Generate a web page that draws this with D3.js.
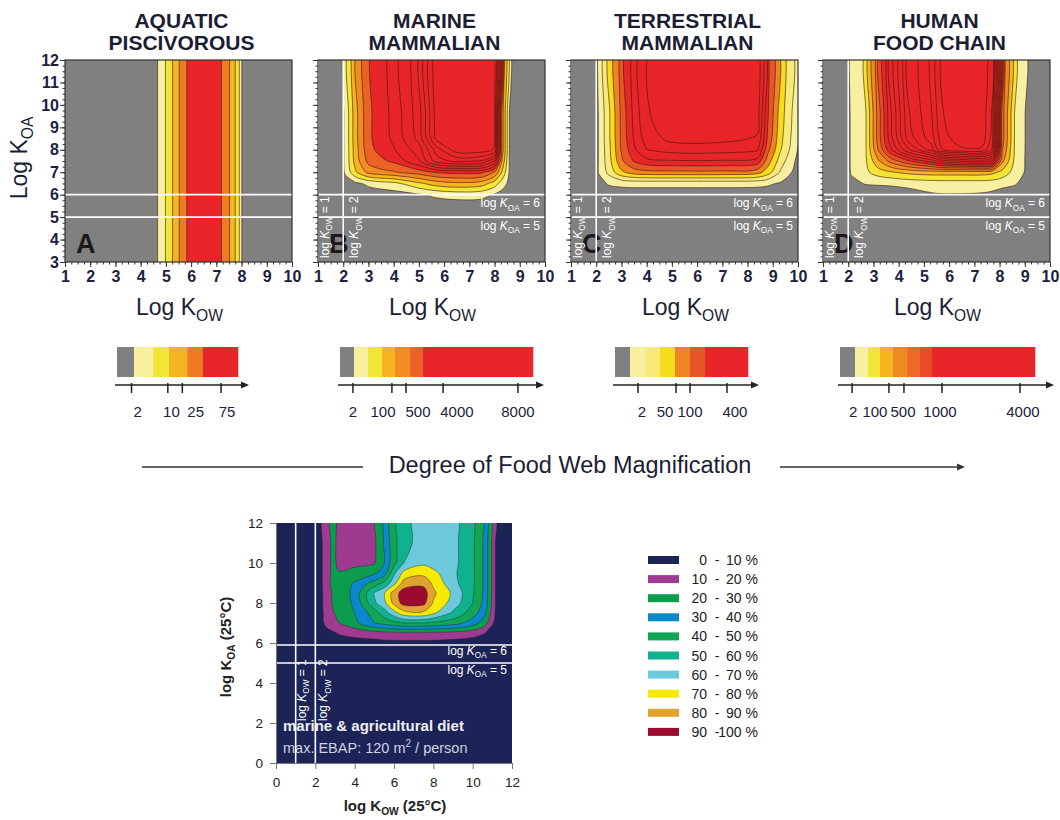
<!DOCTYPE html>
<html>
<head>
<meta charset="utf-8">
<script src="https://cdn.jsdelivr.net/npm/d3@7"></script>
<style>
  body { margin: 0; background: #fff; }
  svg text { font-family: "Liberation Sans", Arial, Helvetica, sans-serif; }
</style>
</head>
<body>
<svg id="fig" width="1060" height="820"></svg>
<script>
// ---------- data ----------
const panelTitles = [["AQUATIC", "PISCIVOROUS"], ["MARINE", "MAMMALIAN"], ["TERRESTRIAL", "MAMMALIAN"], ["HUMAN", "FOOD CHAIN"]];
const panelLetters = ["A", "B", "C", "D"];
const kowTicks = d3.range(1, 11);
const koaTicks = d3.range(3, 13);

// contour level grids (0 = no magnification); rows go from high log Koa down to low
const aKow = [0.5, 4.5, 4.84, 5.13, 5.4, 5.66, 6.0, 7.0, 7.4, 7.65, 7.85, 7.97, 8.05, 10.5];
const aKoa = [12.5, 2.5];
const aGrid = [
  [0, 0, 1, 2, 3, 4, 5, 5, 4, 3, 2, 1, 0, 0],
  [0, 0, 1, 2, 3, 4, 5, 5, 4, 3, 2, 1, 0, 0]
];

const bKow = [0.5, 1.9, 2.1, 2.5, 3, 3.5, 4, 5, 5.7, 6.5, 7.5, 8, 8.3, 8.6, 9, 10.5];
const bKoa = [12.5, 9.5, 8.5, 8, 7.5, 7, 6.5, 6, 5.5, 2.5];
const bGrid = [
  [0, 0, 0.82, 3.2, 5.3, 6.0, 6.8, 9.0, 13, 13.2, 13.2, 12.6, 4, 0.3, 0, 0],
  [0, 0, 0.82, 3.2, 5.3, 6.0, 6.8, 9.0, 13, 13.2, 13.2, 12.6, 4, 0.3, 0, 0],
  [0, 0, 0.82, 3.2, 5.3, 6.0, 6.7, 8.8, 12.8, 13.2, 13.2, 12.6, 4, 0.3, 0, 0],
  [0, 0, 0.8, 3.1, 5.2, 5.8, 6.4, 8.0, 11, 13.05, 13.05, 12.4, 4, 0.3, 0, 0],
  [0, 0, 0.8, 3.0, 4.8, 5.3, 5.7, 7.4, 10, 10.8, 10.4, 8.4, 3.4, 0.3, 0, 0],
  [0, 0, 0.7, 2.4, 3.8, 4.2, 4.4, 5.0, 5.6, 5.8, 5.7, 4.4, 2.4, 0.3, 0, 0],
  [0, 0, 0, 0.3, 0.7, 1.0, 1.2, 2.3, 3.0, 3.3, 3.0, 2.0, 1.0, 0.2, 0, 0],
  [0, 0, 0, 0, 0, 0, 0.1, 0.4, 0.7, 0.9, 0.8, 0.4, 0.1, 0, 0, 0],
  [0, 0, 0, 0, 0, 0, 0, 0, 0, 0, 0, 0, 0, 0, 0, 0],
  [0, 0, 0, 0, 0, 0, 0, 0, 0, 0, 0, 0, 0, 0, 0, 0]
];

const cKow = [0.5, 1.9, 2.1, 2.5, 3, 3.5, 4, 5, 7, 8.4, 8.8, 9.3, 10, 10.5];
const cKoa = [12.5, 9.5, 8.5, 8, 7.5, 7, 6.5, 6, 2.5];
const cGrid = [
  [0, 0, 0.55, 2.3, 4.75, 6.8, 8.4, 9, 9, 8.9, 5.6, 3.0, 0.7, 0.7],
  [0, 0, 0.55, 2.3, 4.75, 6.8, 8.4, 9, 9, 8.9, 5.6, 3.0, 0.7, 0.7],
  [0, 0, 0.55, 2.3, 4.7, 6.6, 8.0, 8.8, 8.8, 8.4, 5.3, 2.8, 0.6, 0.6],
  [0, 0, 0.55, 2.2, 4.6, 6.3, 7.5, 7.9, 7.9, 7.6, 4.8, 2.6, 0.45, 0.45],
  [0, 0, 0.55, 2.1, 4.3, 5.6, 6.2, 6.4, 6.4, 6.1, 4.0, 2.0, 0.2, 0.2],
  [0, 0, 0.55, 1.8, 3.3, 4.0, 4.2, 4.25, 4.25, 3.9, 3.0, 1.4, 0, 0],
  [0, 0, 0.2, 0.6, 0.75, 0.8, 0.8, 0.8, 0.8, 0.75, 0.65, 0.4, 0, 0],
  [0, 0, 0, 0, 0, 0, 0, 0, 0, 0, 0, 0, 0, 0],
  [0, 0, 0, 0, 0, 0, 0, 0, 0, 0, 0, 0, 0, 0]
];

const dKow = [0.5, 1.95, 2.1, 2.7, 3.2, 3.7, 4.4, 5.3, 5.7, 6.5, 7.3, 7.7, 8.1, 8.6, 9.1, 10.5];
const dKoa = [12.5, 9.5, 8.5, 8, 7.5, 7, 6.5, 6, 5.5, 2.5];
const dGrid = [
  [0, 0, 0.6, 1.45, 5.0, 8.4, 12.4, 14.4, 16.4, 17.2, 17.2, 15.4, 5.0, 1.45, 0.3, 0],
  [0, 0, 0.6, 1.45, 5.0, 8.4, 12.4, 14.4, 16.4, 17.2, 17.2, 15.4, 5.0, 1.45, 0.3, 0],
  [0, 0, 0.6, 1.45, 5.0, 8.2, 12.0, 14.0, 16.0, 17.1, 17.1, 15.2, 5.0, 1.45, 0.3, 0],
  [0, 0, 0.6, 1.45, 4.6, 7.4, 10.4, 13.0, 15.4, 16.3, 16.3, 14.4, 4.6, 1.4, 0.3, 0],
  [0, 0, 0.6, 1.4, 3.4, 4.9, 6.4, 8.0, 9.0, 9.6, 10.0, 9.4, 3.8, 1.3, 0.3, 0],
  [0, 0, 0.55, 1.3, 2.0, 2.4, 2.8, 3.0, 3.0, 3.0, 3.0, 2.8, 2.2, 1.1, 0.3, 0],
  [0, 0, 0.3, 0.55, 0.6, 0.65, 0.8, 0.95, 1.0, 1.0, 1.0, 0.95, 0.8, 0.6, 0.1, 0],
  [0, 0, 0, 0, 0, 0, 0.1, 0.4, 0.45, 0.45, 0.4, 0.3, 0.1, 0, 0, 0],
  [0, 0, 0, 0, 0, 0, 0, 0, 0, 0, 0, 0, 0, 0, 0, 0],
  [0, 0, 0, 0, 0, 0, 0, 0, 0, 0, 0, 0, 0, 0, 0, 0]
];

const GRAY = "#808080", RED = "#e8262a";
const aColors = [GRAY, "#f6f0a0", "#f3e535", "#f7b422", "#ef7b23", RED];
const bColors = [GRAY, "#f6f0a0", "#f3e535", "#f7b422", "#f08c22", "#eb6226"].concat(d3.range(8).map(() => RED));
const cColors = [GRAY, "#f6f0a0", "#f7ea78", "#f5dc1c", "#ef8522", "#ea5527"].concat(d3.range(4).map(() => RED));
const dColors = [GRAY, "#f6f0a0", "#f3e535", "#f7b422", "#ef8a22", "#ec6a26", "#e94a28"].concat(d3.range(11).map(() => RED));

// colour bars: segment edges and tick places as fractions of the bar
const barEdgesA = [0.14, 0.30, 0.43, 0.58, 0.71];
const barTicksA = [0.12, 0.42, 0.54, 0.86];
const barLabelAtA = [0.17, 0.45, 0.65, 0.91];
const barLabelsA = ["2", "10", "25", "75"];
const barEdgesB = [0.073, 0.145, 0.218, 0.285, 0.363, 0.43];
const barTicksB = [0.067, 0.269, 0.342, 0.534, 0.922];
const barLabelAtB = [0.067, 0.223, 0.404, 0.606, 0.922];
const barLabelsB = ["2", "100", "500", "4000", "8000"];
const barEdgesC = [0.113, 0.226, 0.338, 0.451, 0.564, 0.677];
const barTicksC = [0.173, 0.459, 0.564, 0.842];
const barLabelAtC = [0.203, 0.376, 0.564, 0.902];
const barLabelsC = ["2", "50", "100", "400"];
const barEdgesD = [0.077, 0.144, 0.205, 0.272, 0.344, 0.41, 0.472];
const barTicksD = [0.062, 0.251, 0.328, 0.523, 0.923];
const barLabelAtD = [0.067, 0.179, 0.323, 0.513, 0.938];
const barLabelsD = ["2", "100", "500", "1000", "4000"];

// bottom plot: % of maximum exposure
const eKow = [-0.5, 2, 2.6, 2.95, 3.2, 4, 5, 5.5, 6, 6.5, 7.5, 8, 9, 10, 10.6, 11.3, 12.5];
const eKoa = [12.5, 11, 10, 9.5, 9, 8.5, 8, 7.5, 7, 6.5, 6, 5.5, -0.5];
const eGrid = [
  [0, 0, 17, 23, 15, 15, 18, 31, 47, 57, 64, 66, 63, 52, 38, 3, 0],
  [0, 0, 17, 23, 15, 15, 18, 31, 47, 57, 64, 66, 63, 52, 38, 3, 0],
  [0, 0, 17, 23, 16, 17, 19, 30, 47, 60, 68, 65, 63, 52, 38, 3, 0],
  [0, 0, 17, 23, 21, 24, 28, 35, 58, 73, 77, 73, 62, 52, 38, 3, 0],
  [0, 0, 17, 24, 24, 31, 44, 52, 66, 84, 87, 78, 63, 52, 38, 3, 0],
  [0, 0, 16, 22, 23, 33, 61, 69, 85, 95, 95, 82, 68, 51, 38, 3, 0],
  [0, 0, 16, 22, 23, 32, 58, 67, 83, 94, 93, 79, 66, 50, 37, 3, 0],
  [0, 0, 15, 20, 22, 30, 45, 55, 66, 76, 78, 72, 58, 45, 33, 3, 0],
  [0, 0, 14, 17, 20, 27, 40, 44, 47, 50, 50, 48, 45, 35, 25, 2, 0],
  [0, 0, 6, 9, 11, 14, 16, 17, 18, 18, 18, 18, 17, 14, 10.5, 1, 0],
  [0, 0, 2, 3, 4, 5, 6, 7, 7, 7, 7, 7, 6, 5, 3, 0, 0],
  [0, 0, 0, 0, 0, 0, 0, 0, 0, 0, 0, 0, 0, 0, 0, 0, 0],
  [0, 0, 0, 0, 0, 0, 0, 0, 0, 0, 0, 0, 0, 0, 0, 0, 0]
];
const eThresholds = [10, 20, 30, 40, 50, 60, 70, 80, 90];
const eColors = ["#1c2356", "#9e3a90", "#0b9c4d", "#0a88cc", "#12a553", "#10b28e", "#6cc9dc", "#f6ea05", "#e0a32d", "#9c0a2e"];
const eTicks = d3.range(0, 13, 2);

// ---------- drawing ----------
const svg = d3.select("#fig");

const nodeMap = nodes => g => {
  const s = Math.max(0, Math.min(nodes.length - 1, g - 0.5));
  const i = Math.min(nodes.length - 2, Math.floor(s));
  return nodes[i] + (nodes[i + 1] - nodes[i]) * (s - i);
};

function drawContours(g, kow, koa, grid, thresholds, colors, x, y, stroke, sw, op, curve) {
  const mx = nodeMap(kow), my = nodeMap(koa);
  const line = d3.line().x(p => x(mx(p[0]))).y(p => y(my(p[1])))
    .curve(curve || d3.curveCatmullRomClosed.alpha(0.5));
  const bands = d3.contours().size([kow.length, koa.length]).thresholds(thresholds)(grid.flat());
  const paths = bands.map(b => b.coordinates
    .map(poly => poly.map(ring => line(ring.slice(0, -1))).join("")).join(""));
  g.selectAll(null).data(paths).join("path")
    .attr("d", d => d).attr("fill", (d, i) => colors[i + 1]).attr("fill-rule", "evenodd");
  g.selectAll(null).data(paths).join("path")
    .attr("d", d => d).attr("fill", "none").attr("stroke", stroke)
    .attr("stroke-width", sw).attr("stroke-opacity", op);
}

function kText(parent, pre, sub, post, fs, italic) {
  const t = parent.append("text").attr("font-size", fs);
  t.append("tspan").text(pre);
  t.append("tspan").text("K").attr("font-style", italic ? "italic" : null);
  t.append("tspan").text(sub).attr("font-size", fs * 0.68).attr("dy", fs * 0.28);
  if (post) t.append("tspan").text(post).attr("dy", -fs * 0.28);
  return t;
}

const panels = [
  { kow: aKow, koa: aKoa, grid: aGrid, colors: aColors, curve: d3.curveLinearClosed },
  { kow: bKow, koa: bKoa, grid: bGrid, colors: bColors },
  { kow: cKow, koa: cKoa, grid: cGrid, colors: cColors },
  { kow: dKow, koa: dKoa, grid: dGrid, colors: dColors }
];
const lefts = [65, 318, 571, 823];
const pw = 227;
const y = d3.scaleLinear().domain([3, 12]).range([262, 60]);
const ink = "#1c2140";

panels.forEach((p, k) => {
  const x = d3.scaleLinear().domain([1, 10]).range([lefts[k], lefts[k] + pw]);
  const g = svg.append("g");
  g.append("clipPath").attr("id", "clip" + k).append("rect")
    .attr("x", x(1)).attr("y", y(12)).attr("width", pw).attr("height", y(3) - y(12));
  const pg = g.append("g").attr("clip-path", `url(#clip${k})`);
  pg.append("rect").attr("x", x(1)).attr("y", y(12)).attr("width", pw).attr("height", y(3) - y(12)).attr("fill", GRAY);
  drawContours(pg, p.kow, p.koa, p.grid, d3.range(1, p.colors.length).map(v => v - 0.5),
    p.colors, x, y, "#3a1808", 0.8, 0.75, p.curve);

  // panel letter
  pg.append("text").attr("x", x(1) + 11).attr("y", 253).attr("font-size", 27)
    .attr("font-weight", "bold").attr("fill", "#1a1a1a").text(panelLetters[k]);

  // white reference lines
  [5, 6].forEach(v => pg.append("line").attr("x1", x(1)).attr("x2", x(10))
    .attr("y1", y(v)).attr("y2", y(v)).attr("stroke", "#fff").attr("stroke-width", 1.6));
  if (k > 0) {
    [1, 2].forEach(v => pg.append("line").attr("x1", x(v)).attr("x2", x(v))
      .attr("y1", y(3)).attr("y2", y(12)).attr("stroke", "#fff").attr("stroke-width", 1.6));
    [6, 5].forEach(v => kText(pg, "log ", "OA", " = " + v, 12, true)
      .attr("x", x(10) - 5).attr("y", y(v) + 12.5).attr("text-anchor", "end").attr("fill", "#fff"));
    [[1, 11], [2, 15]].forEach(([v, off]) => kText(pg, "log ", "OW", " = " + v, 12, true)
      .attr("transform", `translate(${x(v) + off},${y(3) - 4}) rotate(-90)`).attr("fill", "#fff"));
  }

  // frame
  g.append("rect").attr("x", x(1)).attr("y", y(12)).attr("width", pw).attr("height", y(3) - y(12))
    .attr("fill", "none").attr("stroke", "#333").attr("stroke-width", 1.2);

  // axes
  const axStyle = a => {
    a.select(".domain").remove();
    a.selectAll("line").attr("stroke", "#333");
    a.selectAll("text").attr("font-size", 16).attr("font-weight", "bold").attr("fill", ink)
      .attr("font-family", null);
  };
  g.append("g").attr("transform", `translate(0,${y(3)})`)
    .call(d3.axisBottom(x).tickValues(d3.range(1, 10.01, 0.25)).tickSize(2.5).tickFormat("")).call(axStyle);
  g.append("g").attr("transform", `translate(0,${y(3)})`)
    .call(d3.axisBottom(x).tickValues(kowTicks).tickSize(5).tickPadding(4)).call(axStyle);
  g.append("g").attr("transform", `translate(${x(1)},0)`)
    .call(d3.axisLeft(y).tickValues(d3.range(3, 12.01, 0.25)).tickSize(2.5).tickFormat("")).call(axStyle);
  g.append("g").attr("transform", `translate(${x(1)},0)`)
    .call(d3.axisLeft(y).tickValues(koaTicks).tickSize(5).tickPadding(1)
      .tickFormat(k === 0 ? d3.format("d") : "")).call(axStyle);

  // titles and labels
  const cx = (x(1) + x(10)) / 2 + 3;
  panelTitles[k].forEach((t, i) => g.append("text").attr("x", cx).attr("y", 28 + i * 22)
    .attr("text-anchor", "middle").attr("font-size", 21).attr("font-weight", "bold")
    .attr("fill", "#1b1d33").text(t));
  kText(g, "Log ", "OW", null, 23, false).attr("x", cx - 2).attr("y", 315)
    .attr("text-anchor", "middle").attr("fill", "#1b1d33");
});

kText(svg, "Log ", "OA", null, 23, false).attr("transform", "translate(27,158) rotate(-90)")
  .attr("text-anchor", "middle").attr("fill", "#1b1d33");

// ---------- colour bars ----------
const bars = [
  { x0: 117, w: 121, edges: barEdgesA, ticks: barTicksA, at: barLabelAtA, labels: barLabelsA, colors: aColors, ext: 4 },
  { x0: 340, w: 193, edges: barEdgesB, ticks: barTicksB, at: barLabelAtB, labels: barLabelsB, colors: bColors, ext: 4 },
  { x0: 615, w: 133, edges: barEdgesC, ticks: barTicksC, at: barLabelAtC, labels: barLabelsC, colors: cColors, ext: 4 },
  { x0: 840, w: 195, edges: barEdgesD, ticks: barTicksD, at: barLabelAtD, labels: barLabelsD, colors: dColors, ext: 12 }
];
bars.forEach(b => {
  const s = d3.scaleLinear().domain([0, 1]).range([b.x0, b.x0 + b.w]);
  const stops = [0, ...b.edges, 1];
  const g = svg.append("g");
  g.selectAll(null).data(stops.slice(0, -1)).join("rect")
    .attr("x", d => s(d)).attr("y", 347)
    .attr("width", (d, i) => s(stops[i + 1]) - s(d) + 0.3).attr("height", 30)
    .attr("fill", (d, i) => b.colors[i]);
  const ay = 385, xe = b.x0 + b.w + b.ext;
  g.append("line").attr("x1", b.x0 - 2).attr("x2", xe).attr("y1", ay).attr("y2", ay)
    .attr("stroke", "#222").attr("stroke-width", 1.4);
  g.append("path").attr("d", `M${xe - 1},${ay - 3.5}L${xe + 7},${ay}L${xe - 1},${ay + 3.5}Z`).attr("fill", "#222");
  g.selectAll(null).data(b.ticks).join("line")
    .attr("x1", d => s(d)).attr("x2", d => s(d)).attr("y1", ay - 2).attr("y2", ay + 8)
    .attr("stroke", "#222").attr("stroke-width", 1.5);
  g.selectAll(null).data(b.labels).join("text")
    .attr("x", (d, i) => s(b.at[i])).attr("y", 417).attr("text-anchor", "middle")
    .attr("font-size", 15).attr("fill", ink).text(d => d);
});

// degree of food web magnification
svg.append("line").attr("x1", 142).attr("x2", 363).attr("y1", 467).attr("y2", 467)
  .attr("stroke", "#333").attr("stroke-width", 1.6);
svg.append("line").attr("x1", 780).attr("x2", 958).attr("y1", 467).attr("y2", 467)
  .attr("stroke", "#333").attr("stroke-width", 1.6);
svg.append("path").attr("d", "M957,463.5L965,467L957,470.5Z").attr("fill", "#333");
svg.append("text").attr("x", 570).attr("y", 473).attr("text-anchor", "middle")
  .attr("font-size", 23.5).attr("fill", "#1b1d33").text("Degree of Food Web Magnification");

// ---------- bottom plot ----------
const ex = d3.scaleLinear().domain([0, 12]).range([276, 512]);
const ey = d3.scaleLinear().domain([0, 12]).range([763, 523]);
const eg = svg.append("g");
eg.append("clipPath").attr("id", "clipE").append("rect")
  .attr("x", ex(0)).attr("y", ey(12)).attr("width", ex(12) - ex(0)).attr("height", ey(0) - ey(12));
const epg = eg.append("g").attr("clip-path", "url(#clipE)");
epg.append("rect").attr("x", ex(0)).attr("y", ey(12)).attr("width", ex(12) - ex(0))
  .attr("height", ey(0) - ey(12)).attr("fill", eColors[0]);
drawContours(epg, eKow, eKoa, eGrid, eThresholds, eColors, ex, ey, "#222", 0.6, 0.7);

epg.append("text").attr("x", 283).attr("y", 731).attr("font-size", 15).attr("font-weight", "bold")
  .attr("fill", "#eceef5").text("marine & agricultural diet");
const note = epg.append("text").attr("x", 283).attr("y", 753).attr("font-size", 14.5).attr("fill", "#cfd2e0");
note.append("tspan").text("max. EBAP: 120 m");
note.append("tspan").text("2").attr("font-size", 10).attr("dy", -6);
note.append("tspan").text(" / person").attr("dy", 6);

[5, 5.9].forEach(v => epg.append("line").attr("x1", ex(0)).attr("x2", ex(12))
  .attr("y1", ey(v)).attr("y2", ey(v)).attr("stroke", "#fff").attr("stroke-width", 1.6));
[1, 2].forEach(v => epg.append("line").attr("x1", ex(v)).attr("x2", ex(v))
  .attr("y1", ey(0)).attr("y2", ey(12)).attr("stroke", "#fff").attr("stroke-width", 1.6));
[[6, 12], [5, 11]].forEach(([v, off]) => kText(epg, "log ", "OA", " = " + v, 12, true)
  .attr("x", ex(12) - 5).attr("y", ey(v) + off).attr("text-anchor", "end").attr("fill", "#fff"));
[[1, 10], [2, 12]].forEach(([v, off]) => kText(epg, "log ", "OW", " = " + v, 12, true)
  .attr("transform", `translate(${ex(v) + off},${ey(0) - 42}) rotate(-90)`).attr("fill", "#fff"));

const eAxStyle = a => {
  a.select(".domain").attr("stroke", "#777");
  a.selectAll("line").attr("stroke", "#777");
  a.selectAll("text").attr("font-size", 13.5).attr("fill", "#222").attr("font-family", null);
};
eg.append("g").attr("transform", `translate(0,${ey(0)})`)
  .call(d3.axisBottom(ex).tickValues(eTicks).tickSize(6).tickPadding(8).tickSizeOuter(0)).call(eAxStyle);
eg.append("g").attr("transform", `translate(${ex(0)},0)`)
  .call(d3.axisLeft(ey).tickValues(eTicks).tickSize(6).tickPadding(7).tickSizeOuter(0)).call(eAxStyle);
kText(eg, "log ", "OW", " (25°C)", 15, false).attr("x", 395).attr("y", 811)
  .attr("text-anchor", "middle").attr("font-weight", "bold").attr("fill", "#222");
kText(eg, "log ", "OA", " (25°C)", 15, false).attr("transform", "translate(231,647) rotate(-90)")
  .attr("text-anchor", "middle").attr("font-weight", "bold").attr("fill", "#222");

// legend
const legendLow = [0, ...eThresholds];
const legendHigh = [...eThresholds, 100];
const lg = svg.append("g");
eColors.forEach((c, i) => {
  const cy = 560 + i * 19.1;
  lg.append("rect").attr("x", 648).attr("y", cy - 4).attr("width", 31).attr("height", 8).attr("fill", c);
  lg.append("text").attr("x", 707).attr("y", cy + 5).attr("text-anchor", "end")
    .attr("font-size", 14).attr("fill", "#222").text(legendLow[i]);
  lg.append("text").attr("x", 717).attr("y", cy + 5).attr("text-anchor", "middle")
    .attr("font-size", 14).attr("fill", "#222").text("-");
  lg.append("text").attr("x", 758).attr("y", cy + 5).attr("text-anchor", "end")
    .attr("font-size", 14).attr("fill", "#222").text(legendHigh[i] + " %");
});
</script>
</body>
</html>
